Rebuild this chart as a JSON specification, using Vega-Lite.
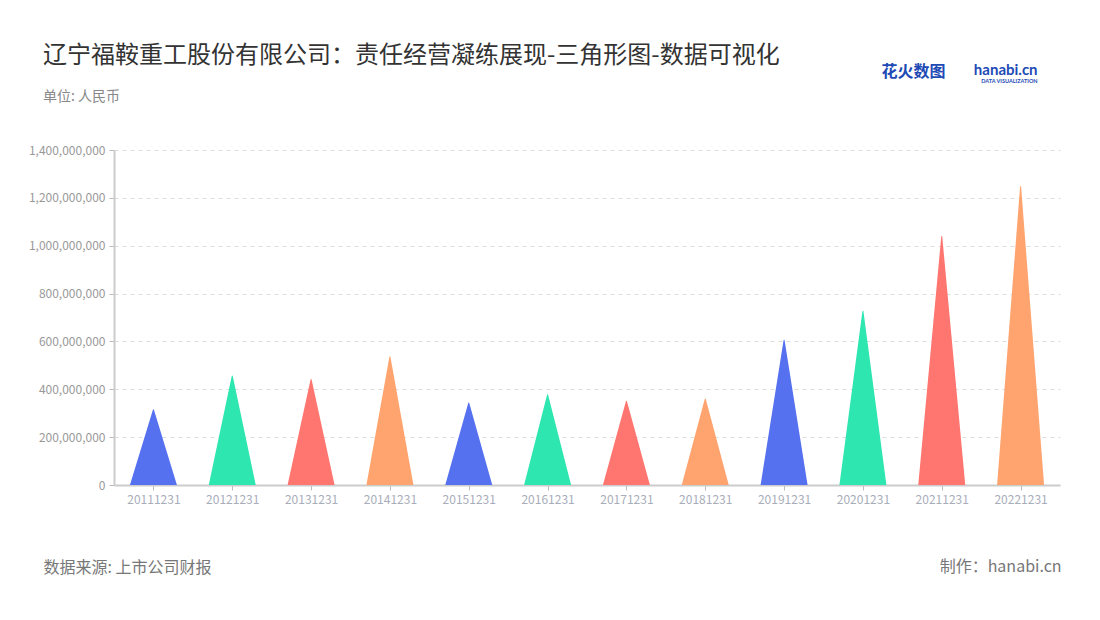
{
  "$schema": "https://vega.github.io/schema/vega-lite/v6.json",
  "autosize": {"type": "none"},
  "padding": {"left": 114, "top": 150, "right": 40, "bottom": 135},
  "width": 946,
  "height": 335,
  "background": "#ffffff",
  "config": {
    "view": {"stroke": null},
    "font": "Noto Sans CJK SC"
  },
  "title": {
    "text": "辽宁福鞍重工股份有限公司：责任经营凝练展现-三角形图-数据可视化",
    "subtitle": "单位: 人民币",
    "anchor": "start",
    "frame": "group",
    "dx": -71,
    "offset": -41,
    "fontSize": 24,
    "fontWeight": "normal",
    "color": "#333333",
    "subtitleFontSize": 14,
    "subtitleColor": "#888888",
    "subtitlePadding": 22
  },
  "data": {
    "values": [
      {"date": "20111231", "value": 315000000},
      {"date": "20121231", "value": 456000000},
      {"date": "20131231", "value": 441000000},
      {"date": "20141231", "value": 536000000},
      {"date": "20151231", "value": 343000000},
      {"date": "20161231", "value": 377000000},
      {"date": "20171231", "value": 350000000},
      {"date": "20181231", "value": 359000000},
      {"date": "20191231", "value": 605000000},
      {"date": "20201231", "value": 726000000},
      {"date": "20211231", "value": 1038000000},
      {"date": "20221231", "value": 1247000000}
    ]
  },
  "layer": [
    {
      "transform": [
        {"fold": ["value"], "as": ["part", "amount"]},
        {"impute": "amount", "key": "part", "keyvals": ["base", "value"], "groupby": ["date"], "value": 0}
      ],
      "mark": {"type": "trail", "clip": true},
      "encoding": {
        "x": {
          "field": "date",
          "type": "nominal",
          "sort": null,
          "scale": {"padding": 0.5},
          "axis": {
            "title": "数据来源: 上市公司财报",
            "titleAnchor": "start",
            "titleAlign": "left",
            "titleBaseline": "middle",
            "titleX": -71,
            "titleY": 82,
            "titleFontSize": 16,
            "titleFontWeight": "normal",
            "titleColor": "#777777",
            "labelAngle": 0,
            "labelColor": "#a8adba",
            "labelFontSize": 12,
            "labelPadding": 4,
            "domainColor": "#cccccc",
            "domainWidth": 2,
            "tickColor": "#bbbbbb",
            "tickSize": 5
          }
        },
        "y": {
          "field": "amount",
          "type": "quantitative",
          "scale": {"domain": [0, 1400000000], "nice": false},
          "axis": {
            "title": null,
            "values": [0, 200000000, 400000000, 600000000, 800000000, 1000000000, 1200000000, 1400000000],
            "format": ",d",
            "labelColor": "#999999",
            "labelFontSize": 12,
            "labelPadding": 4,
            "domainColor": "#cccccc",
            "domainWidth": 2,
            "tickColor": "#bbbbbb",
            "tickSize": 5,
            "gridColor": "#dddddd",
            "gridDash": [4, 4]
          }
        },
        "color": {
          "field": "date",
          "type": "nominal",
          "sort": null,
          "legend": null,
          "scale": {
            "range": ["#5671ef", "#2ee6b0", "#ff7570", "#ffa36f", "#5671ef", "#2ee6b0", "#ff7570", "#ffa36f", "#5671ef", "#2ee6b0", "#ff7570", "#ffa36f"]
          }
        },
        "size": {
          "field": "part",
          "type": "ordinal",
          "legend": null,
          "scale": {"domain": ["base", "value"], "range": [47, 0]}
        },
        "order": {"field": "amount", "type": "quantitative"}
      }
    },
    {
      "data": {"values": [{"note": "制作：hanabi.cn"}]},
      "mark": {"type": "text", "align": "right", "baseline": "middle", "dx": 41, "dy": 82, "fontSize": 16, "color": "#777777"},
      "encoding": {
        "x": {"datum": "20221231", "type": "nominal"},
        "y": {"datum": 0, "type": "quantitative"},
        "text": {"field": "note"}
      }
    },
    {
      "data": {"values": [{"logo": "花火数图"}]},
      "mark": {"type": "text", "align": "right", "baseline": "middle", "dx": -75, "dy": -78, "fontSize": 16, "fontWeight": "bold", "color": "#1d4ab5"},
      "encoding": {
        "x": {"datum": "20221231", "type": "nominal"},
        "y": {"datum": 1400000000, "type": "quantitative"},
        "text": {"field": "logo"}
      }
    },
    {
      "data": {"values": [{"logo": "hanabi.cn"}]},
      "mark": {"type": "text", "align": "right", "baseline": "middle", "dx": 17, "dy": -80, "fontSize": 15, "fontWeight": "bold", "font": "Lato", "color": "#1d4ab5"},
      "encoding": {
        "x": {"datum": "20221231", "type": "nominal"},
        "y": {"datum": 1400000000, "type": "quantitative"},
        "text": {"field": "logo"}
      }
    },
    {
      "data": {"values": [{"logo": "DATA VISUALIZATION"}]},
      "mark": {"type": "text", "align": "right", "baseline": "middle", "dx": 17, "dy": -69, "fontSize": 5.5, "fontWeight": "bold", "font": "Lato", "color": "#1d4ab5"},
      "encoding": {
        "x": {"datum": "20221231", "type": "nominal"},
        "y": {"datum": 1400000000, "type": "quantitative"},
        "text": {"field": "logo"}
      }
    }
  ]
}
